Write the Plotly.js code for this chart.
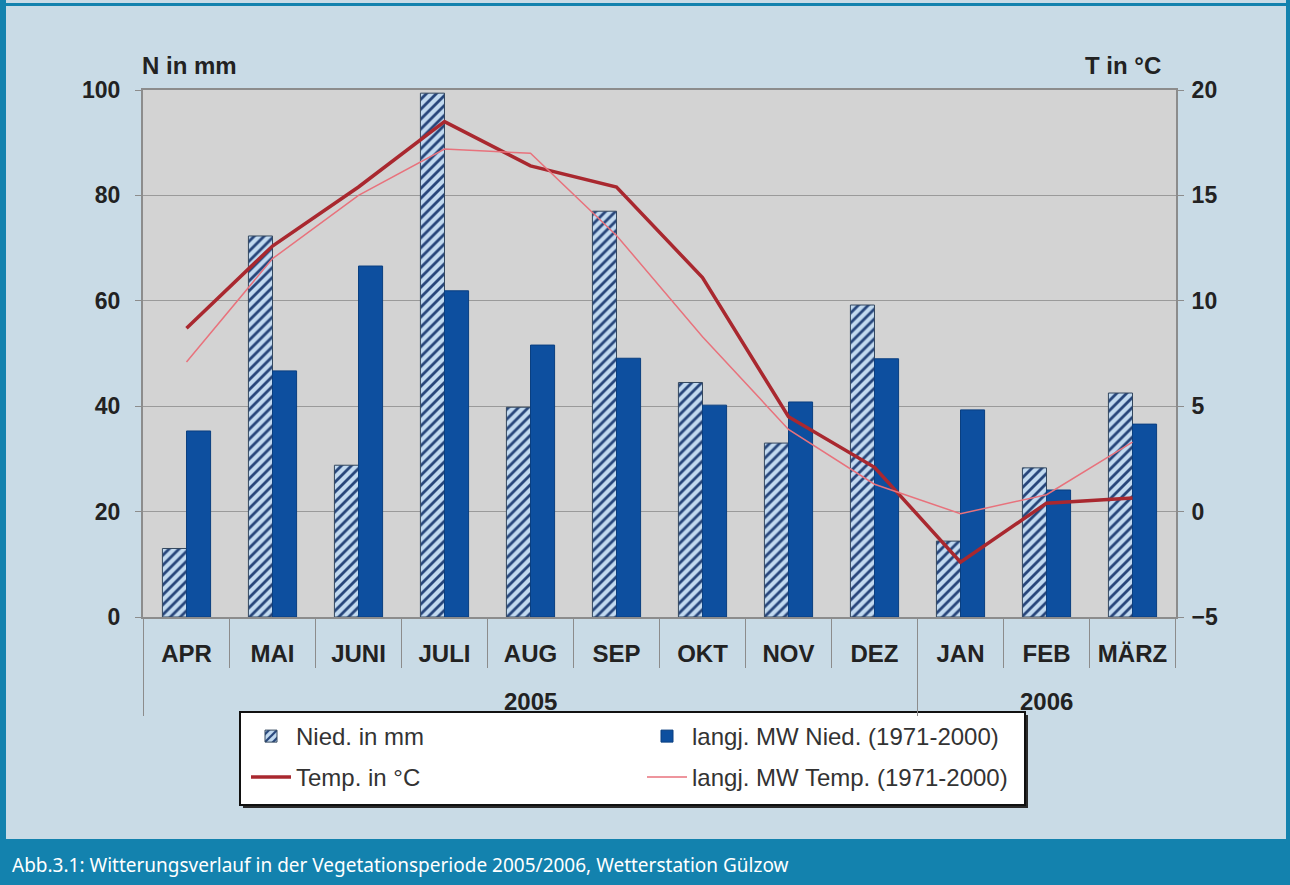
<!DOCTYPE html>
<html>
<head>
<meta charset="utf-8">
<script src="https://cdn.plot.ly/plotly-3.0.1.min.js"></script>
<style>html,body{margin:0;padding:0;background:#c9dbe6;}#chart{width:1290px;height:885px;}</style>
</head>
<body>
<div id="chart"></div>
<script>
const months = ['APR','MAI','JUNI','JULI','AUG','SEP','OKT','NOV','DEZ','JAN','FEB','MÄRZ'];
const niedMm = [13, 72.3, 28.8, 99.4, 39.8, 77, 44.5, 33, 59.2, 14.4, 28.3, 42.5];
const niedMW = [35.3, 46.7, 66.6, 61.9, 51.6, 49.1, 40.2, 40.8, 49, 39.3, 24.1, 36.6];
const tempC = [8.7, 12.6, 15.4, 18.5, 16.4, 15.4, 11.1, 4.5, 2.1, -2.4, 0.4, 0.65];
const tempMW = [7.1, 12.0, 15.0, 17.2, 17.0, 13.1, 8.3, 3.9, 1.3, -0.1, 0.8, 3.3];
const yearLabels = ['2005', '2006'];
const yearCenters = ['AUG', 'FEB'];
const seriesNames = ['Nied. in mm', 'langj. MW Nied. (1971-2000)', 'Temp. in °C', 'langj. MW Temp. (1971-2000)'];
const captionText = 'Abb.3.1: Witterungsverlauf in der Vegetationsperiode 2005/2006, Wetterstation Gülzow';

const W = 1290, H = 885;
const L = 143, R = 1176, T = 90, B = 617;
const pw = R - L, ph = B - T;
const px = v => (v - L) / pw;
const py = v => (B - v) / ph;

const FONT = 'Liberation Sans, Arial, Helvetica, sans-serif';

const traces = [
  {type:'bar', x: months, y: niedMm, name: seriesNames[0], yaxis:'y', legend:'legend',
   marker:{color:'#bcd6ee', pattern:{shape:'/', fgcolor:'#26457a', bgcolor:'#c2daf0', size:7, solidity:0.4},
           line:{color:'#34485f', width:1}}},
  {type:'bar', x: months, y: niedMW, name: seriesNames[1], yaxis:'y', legend:'legend',
   marker:{color:'#0d4f9f', line:{color:'#0a3f80', width:1}}},
  {type:'scatter', mode:'lines', x: months, y: tempC, name: seriesNames[2], yaxis:'y2', legend:'legend2',
   line:{color:'#a9282f', width:3.5}},
  {type:'scatter', mode:'lines', x: months, y: tempMW, name: seriesNames[3], yaxis:'y2', legend:'legend2',
   line:{color:'#e8727c', width:1.5}}
];

const shapes = [];
// month dividers below axis
for (let i = 0; i <= months.length; i++) {
  const xv = i - 0.5;
  const long = (i === 0 || i === 9);
  shapes.push({type:'line', xref:'x', yref:'paper', x0:xv, x1:xv, y0:0, y1:py(long ? 716 : 668),
               line:{color:'#8c8c8c', width:1}});
}
// outer frame / caption band
shapes.push({type:'rect', xref:'paper', yref:'paper', x0:px(0), x1:px(6), y0:py(885), y1:py(0), fillcolor:'#1382ae', line:{width:0}, layer:'below'});
shapes.push({type:'rect', xref:'paper', yref:'paper', x0:px(1286), x1:px(1290), y0:py(885), y1:py(0), fillcolor:'#1382ae', line:{width:0}, layer:'below'});
shapes.push({type:'rect', xref:'paper', yref:'paper', x0:px(0), x1:px(1290), y0:py(6), y1:py(3), fillcolor:'#1382ae', line:{width:0}, layer:'below'});
shapes.push({type:'rect', xref:'paper', yref:'paper', x0:px(0), x1:px(1290), y0:py(885), y1:py(839), fillcolor:'#1382ae', line:{width:0}, layer:'below'});
// legend box with shadow
shapes.push({type:'rect', xref:'paper', yref:'paper', x0:px(243), x1:px(1028), y0:py(808), y1:py(715), fillcolor:'#2a2a2a', line:{width:0}, layer:'below'});
shapes.push({type:'rect', xref:'paper', yref:'paper', x0:px(240), x1:px(1025), y0:py(805), y1:py(712), fillcolor:'#ffffff', line:{color:'#111111', width:2}, layer:'below'});

const annotations = [
  {text:'N in mm', xref:'paper', yref:'paper', x:px(140), y:py(65), xanchor:'left', yanchor:'middle', showarrow:false,
   font:{family:FONT, size:24, color:'#222', weight:'bold'}},
  {text:'T in °C', xref:'paper', yref:'paper', x:px(1163), y:py(65), xanchor:'right', yanchor:'middle', showarrow:false,
   font:{family:FONT, size:24, color:'#222', weight:'bold'}},
  {text: captionText, xref:'paper', yref:'paper', x:px(10), y:py(865), xanchor:'left', yanchor:'middle', showarrow:false,
   font:{family:'Noto Sans, Open Sans, sans-serif', size:19, color:'#ffffff'}}
];
yearLabels.forEach((t, i) => annotations.push({text:t, xref:'x', yref:'paper', x:yearCenters[i], y:py(701),
  xanchor:'center', yanchor:'middle', showarrow:false, font:{family:FONT, size:24, color:'#222', weight:'bold'}}));

const legendCommon = {orientation:'h', xanchor:'left', yanchor:'top',
  bgcolor:'rgba(0,0,0,0)', borderwidth:0,
  entrywidth:341, entrywidthmode:'pixels', itemwidth:40, traceorder:'normal',
  font:{family:FONT, size:24, color:'#333'}};

const layout = {
  width:W, height:H,
  margin:{l:L, r:W-R, t:T, b:H-B, pad:0},
  paper_bgcolor:'#c9dbe6', plot_bgcolor:'#d3d3d3',
  barmode:'group', bargap:0.44, bargroupgap:0,
  showlegend:true,
  legend:Object.assign({}, legendCommon, {x:px(246), y:py(714)}),
  legend2:Object.assign({}, legendCommon, {x:px(246), y:py(755)}),
  xaxis:{type:'category', tickfont:{family:FONT, size:24, color:'#222', weight:'bold'},
         ticks:'', ticklabelstandoff:14, showline:true, linecolor:'#8c8c8c', linewidth:2, mirror:true,
         showgrid:false, zeroline:false, fixedrange:true},
  yaxis:{range:[0,100], dtick:20, tick0:0, tickfont:{family:FONT, size:23, color:'#222', weight:'bold'},
         ticks:'outside', ticklen:6, tickcolor:'#8c8c8c', ticklabelstandoff:10,
         showline:true, linecolor:'#8c8c8c', linewidth:2,
         showgrid:true, gridcolor:'#9a9a9a', gridwidth:1, zeroline:false},
  yaxis2:{range:[-5,20], dtick:5, tick0:-5, overlaying:'y', side:'right',
          tickfont:{family:FONT, size:23, color:'#222', weight:'bold'},
          ticks:'outside', ticklen:6, tickcolor:'#8c8c8c', ticklabelstandoff:3,
          showline:true, linecolor:'#8c8c8c', linewidth:2, showgrid:false, zeroline:false},
  shapes: shapes,
  annotations: annotations
};

Plotly.newPlot('chart', traces, layout, {displayModeBar:false, staticPlot:true});
</script>
</body>
</html>
